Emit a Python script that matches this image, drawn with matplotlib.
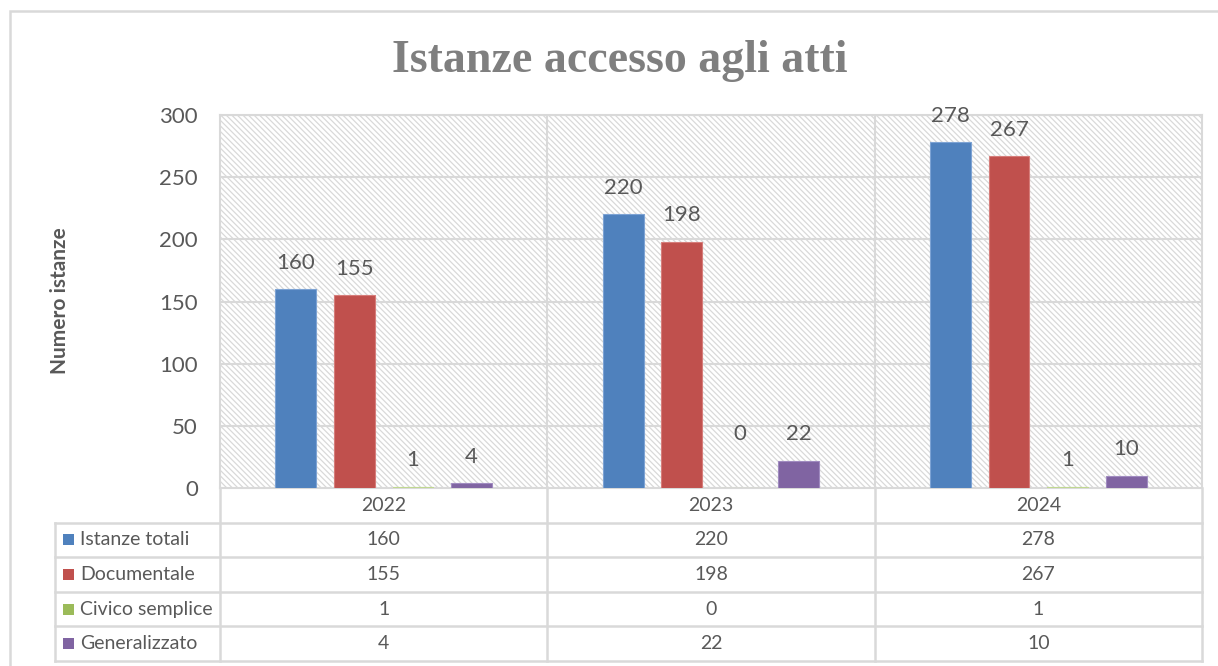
import numpy as np
import matplotlib
matplotlib.use('Agg')
import matplotlib.pyplot as plt
from matplotlib.patches import Rectangle
from matplotlib.lines import Line2D

years = ['2022', '2023', '2024']
series = ['Istanze totali', 'Documentale', 'Civico semplice', 'Generalizzato']
istanze_totali = [160, 220, 278]
documentale = [155, 198, 267]
civico_semplice = [1, 0, 1]
generalizzato = [4, 22, 10]
values = [istanze_totali, documentale, civico_semplice, generalizzato]
colors = ['#4f81bd', '#c0504d', '#9bbb59', '#8064a2']
edges = ['#7da3d4', '#d67d7a', '#c0d890', '#a08bc0']

yticks = [0, 50, 100, 150, 200, 250, 300]

W, H = 1218, 666
txt = '#595959'
grid = '#d9d9d9'
plt.rcParams['font.family'] = ['Lato', 'DejaVu Sans']
plt.rcParams['hatch.color'] = '#d9d9d9'
plt.rcParams['hatch.linewidth'] = 0.9

fig = plt.figure(figsize=(W / 100, H / 100), dpi=100)

# outer chart border (clipped on right and bottom like the screenshot)
fig.add_artist(Rectangle((10 / W, -0.1), 1.2, 1 - 11 / H + 0.1, transform=fig.transFigure,
                         fill=False, edgecolor=grid, linewidth=1.8))

px0, px1, py0, py1 = 220, 1202, 488, 115
ax = fig.add_axes([px0 / W, 1 - py0 / H, (px1 - px0) / W, (py0 - py1) / H])
ax.set_xlim(-0.5, 2.5)
ax.set_ylim(0, 300)
ax.add_patch(Rectangle((0, 0), 1, 1, transform=ax.transAxes, facecolor='white',
                       hatch='\\' * 6, edgecolor='#d9d9d9', linewidth=0, zorder=0))
for y in yticks[1:]:
    ax.axhline(y, color=grid, linewidth=1.5, zorder=1)
for x in [0.5, 1.5]:
    ax.axvline(x, color=grid, linewidth=1.5, zorder=1)
for s in ax.spines.values():
    s.set_color(grid)
    s.set_linewidth(1.5)

x = np.arange(len(years))
bw = 0.125
step = 0.179
offs = (np.arange(len(series)) - 1.5) * step
for i, vals in enumerate(values):
    ax.bar(x + offs[i], vals, width=bw, color=colors[i], edgecolor=edges[i],
           linewidth=0.8, zorder=3)
    for j, v in enumerate(vals):
        ly = v if v > 0 else generalizzato[j]
        ax.annotate(str(v), (x[j] + offs[i], ly), xytext=(0, 19), textcoords='offset points',
                    ha='center', va='center', fontsize=16, color=txt, zorder=4)

ax.set_yticks(yticks)
ax.set_xticks([])
ax.tick_params(axis='y', length=0, pad=16, labelsize=16, labelcolor=txt)
fig.text(60 / W, 1 - 301 / H, 'Numero istanze', rotation=90, ha='center', va='center',
         fontsize=15, fontweight='bold', color=txt)

fig.text(620 / W, 1 - 61 / H, 'Istanze accesso agli atti', ha='center', va='center',
         fontsize=33, fontweight='bold', color='#7f7f7f', family='Liberation Serif')

# data table below the plot
tx0, ty0, ty1 = 55, 488, 661
unit = (px1 - px0) / 3
lab_w = (px0 - tx0) / unit
tab = fig.add_axes([tx0 / W, 1 - ty1 / H, (px1 - tx0) / W, (ty1 - ty0) / H])
tab.set_xlim(-0.5 - lab_w, 2.5)
tab.set_ylim(5, 0)
tab.axis('off')
lkw = dict(color=grid, linewidth=1.8, clip_on=False)
for r in range(1, 6):
    tab.add_line(Line2D([-0.5 - lab_w, 2.5], [r, r], **lkw))
tab.add_line(Line2D([-0.5 - lab_w, -0.5 - lab_w], [1, 5], **lkw))
for c in [-0.5, 0.5, 1.5, 2.5]:
    tab.add_line(Line2D([c, c], [0, 5], **lkw))
for j, yr in enumerate(years):
    tab.text(j, 0.5, yr, ha='center', va='center', fontsize=14, color=txt)
for i, name in enumerate(series):
    r = i + 1.5
    tab.add_patch(Rectangle((-0.5 - lab_w + 0.024, r - 0.16), 0.034, 0.32,
                            facecolor=colors[i], edgecolor='none'))
    tab.text(-0.5 - lab_w + 0.077, r, name, ha='left', va='center', fontsize=14, color=txt)
    for j, v in enumerate(values[i]):
        tab.text(j, r, str(v), ha='center', va='center', fontsize=14, color=txt)

fig.savefig('out.png', dpi=100)
